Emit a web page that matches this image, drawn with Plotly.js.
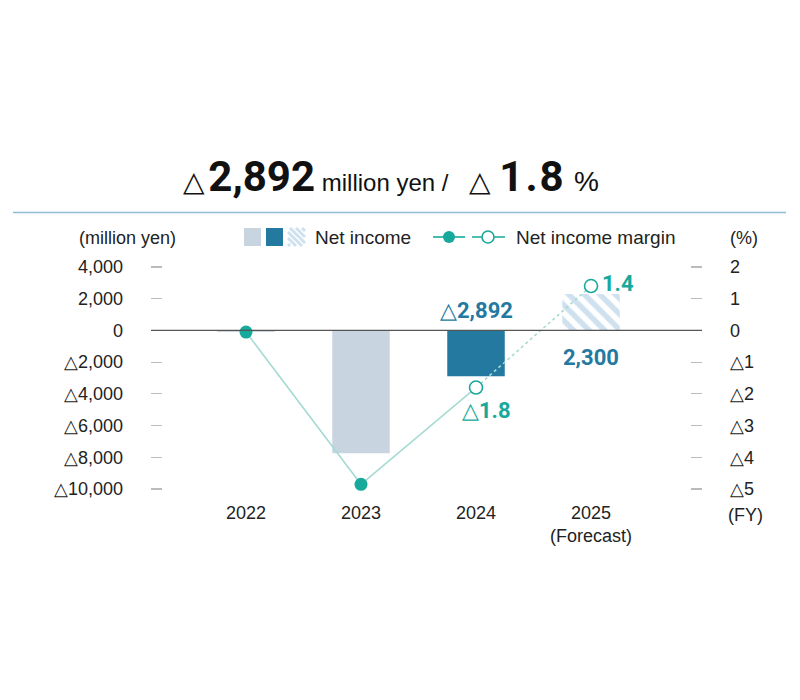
<!DOCTYPE html>
<html>
<head>
<meta charset="utf-8">
<script src="https://cdn.plot.ly/plotly-3.0.1.min.js"></script>
<style>
  body { margin: 0; background: #fff; }
  #chart { width: 800px; height: 700px; }
</style>
</head>
<body>
<div id="chart"></div>
<script>
// data
var years = ['2022', '2023', '2024', '2025'];
var yearLabels = ['2022', '2023', '2024', '2025<br>(Forecast)'];
var netIncome = [-100, -7750, -2892, 2300];
var margin = [-0.05, -4.85, -1.8, 1.4];
var leftTicks = [4000, 2000, 0, -2000, -4000, -6000, -8000, -10000];
var rightTicks = [2, 1, 0, -1, -2, -3, -4, -5];

var TEAL = '#17a99b';
var TEAL_LINE = '#a6dbd2';
var BLUE = '#23799f';
var GREY_BLUE = '#c8d5e1';
var HATCH = '#cfe1ef';
var NARROW = 'Roboto, sans-serif';

function fmt(v) {
  var s = Math.abs(v).toLocaleString('en-US');
  return v < 0 ? '△' + s : s;
}

// plot area in pixels: x 151..702, y 250..500
function px(x) { return (x - 151) / 551; }
function py(y) { return (500 - y) / 250; }

var idx = years.map(function (d, i) { return i; });

var barColors = [GREY_BLUE, GREY_BLUE, BLUE, HATCH];
var barPattern = {
  shape: ['', '', '', '\\'],
  fgcolor: HATCH,
  bgcolor: '#ffffff',
  size: 11,
  solidity: 0.5
};

var bars = {
  type: 'bar',
  x: idx,
  y: netIncome,
  width: 0.5,
  marker: { color: barColors, pattern: barPattern, line: { width: 0 } },
  hoverinfo: 'skip'
};

var solidLine = {
  type: 'scatter', mode: 'lines',
  x: idx.slice(0, 3), y: margin.slice(0, 3), yaxis: 'y2',
  line: { color: TEAL_LINE, width: 1.6 },
  hoverinfo: 'skip'
};
var dotLine = {
  type: 'scatter', mode: 'lines',
  x: idx.slice(2), y: margin.slice(2), yaxis: 'y2',
  line: { color: TEAL_LINE, width: 1.6, dash: 'dot' },
  hoverinfo: 'skip'
};
var points = {
  type: 'scatter', mode: 'markers',
  x: idx, y: margin, yaxis: 'y2',
  marker: {
    size: 13,
    color: [TEAL, TEAL, '#ffffff', '#ffffff'],
    line: { color: TEAL, width: [0, 0, 1.6, 1.6] }
  },
  hoverinfo: 'skip'
};

var annotations = [];
var shapes = [];

// headline, in two pieces so each half sits where the reference has it
var big = function (t, ls) {
  return '<b><span style="font-size:42px;font-family:Roboto;letter-spacing:' + (ls || 0) + 'px">' + t + '</span></b>';
};
var gap = function (n) { return '<span style="font-size:' + n + 'px">\u00A0</span>'; };
var triBig = '<span style="font-size:28px">△</span>';
annotations.push({
  xref: 'paper', yref: 'paper', x: px(316), y: py(176),
  xanchor: 'center', yanchor: 'middle', showarrow: false,
  text: triBig + gap(12) + big('2,892') + '<span style="font-size:24px">\u00A0million yen /</span>',
  font: { family: 'Liberation Sans', color: '#111', size: 24 }
});
annotations.push({
  xref: 'paper', yref: 'paper', x: px(534), y: py(176),
  xanchor: 'center', yanchor: 'middle', showarrow: false,
  text: triBig + gap(30) + big('1.8', 2) + gap(30) + '<span style="font-size:28px">%</span>',
  font: { family: 'Liberation Sans', color: '#111', size: 24 }
});

// rule under headline
shapes.push({
  type: 'line', xref: 'paper', yref: 'paper',
  x0: px(13), x1: px(786), y0: py(212.5), y1: py(212.5),
  line: { color: '#8dbcd4', width: 1.5 }
});

// zero line drawn above the inside tick marks
shapes.push({
  type: 'line', xref: 'paper', yref: 'y', x0: 0, x1: 1, y0: 0, y1: 0,
  layer: 'above', line: { color: '#555', width: 1.3 }
});

// axis unit labels
annotations.push({ xref: 'paper', yref: 'paper', x: px(127), y: py(238), xanchor: 'center', yanchor: 'middle', showarrow: false, text: '(million yen)', font: { size: 18 } });
annotations.push({ xref: 'paper', yref: 'paper', x: px(744), y: py(238), xanchor: 'center', yanchor: 'middle', showarrow: false, text: '(%)', font: { size: 18 } });
annotations.push({ xref: 'paper', yref: 'paper', x: px(745), y: py(515), xanchor: 'center', yanchor: 'middle', showarrow: false, text: '(FY)', font: { size: 18 } });

// custom legend
var ly0 = 228, ly1 = 246;
shapes.push({ type: 'rect', xref: 'paper', yref: 'paper', x0: px(244), x1: px(261), y0: py(ly1), y1: py(ly0), fillcolor: GREY_BLUE, line: { width: 0 } });
shapes.push({ type: 'rect', xref: 'paper', yref: 'paper', x0: px(266), x1: px(283), y0: py(ly1), y1: py(ly0), fillcolor: BLUE, line: { width: 0 } });
// hatched swatch: 45 degree stripes clipped to the square
(function () {
  var x0 = 288, x1 = 305, y0 = ly0, y1 = ly1;
  for (var c = x0 - y1 + 2; c < x1 - y0; c += 6) {
    var a = Math.max(x0, c + y0), b = Math.min(x1, c + y1);
    if (b - a < 1) continue;
    shapes.push({
      type: 'line', xref: 'paper', yref: 'paper',
      x0: px(a), y0: py(a - c), x1: px(b), y1: py(b - c),
      line: { color: HATCH, width: 3 }
    });
  }
})();
annotations.push({ xref: 'paper', yref: 'paper', x: px(313), y: py(237), xanchor: 'left', yanchor: 'middle', showarrow: false, text: 'Net income', font: { size: 19 } });

shapes.push({ type: 'line', xref: 'paper', yref: 'paper', x0: px(433), x1: px(465), y0: py(237), y1: py(237), line: { color: TEAL, width: 1.6 } });
shapes.push({ type: 'line', xref: 'paper', yref: 'paper', x0: px(472), x1: px(505), y0: py(237), y1: py(237), line: { color: TEAL, width: 1.6 } });
shapes.push({ type: 'circle', xref: 'paper', yref: 'paper', x0: px(443), x1: px(455), y0: py(243), y1: py(231), fillcolor: TEAL, line: { width: 0 } });
shapes.push({ type: 'circle', xref: 'paper', yref: 'paper', x0: px(482), x1: px(494), y0: py(243), y1: py(231), fillcolor: '#ffffff', line: { color: TEAL, width: 1.6 } });
annotations.push({ xref: 'paper', yref: 'paper', x: px(514), y: py(237), xanchor: 'left', yanchor: 'middle', showarrow: false, text: 'Net income margin', font: { size: 19 } });

// value labels
var valFont = function (col) { return { family: NARROW, size: 22, color: col }; };
var tri = '<span style="font-family:Liberation Sans;font-size:22px">△</span><b>';
annotations.push({
  x: 2, y: 0, xref: 'x', yref: 'y', xanchor: 'center', yanchor: 'bottom', yshift: 5, showarrow: false,
  text: fmt(netIncome[2]).replace('△', tri) + '</b>',
  font: valFont(BLUE)
});
annotations.push({
  x: 3, y: 0, xref: 'x', yref: 'y', xanchor: 'center', yanchor: 'top', yshift: -13, showarrow: false,
  text: '<b>' + fmt(netIncome[3]) + '</b>', font: valFont(BLUE)
});
annotations.push({
  x: 3, y: margin[3], xref: 'x', yref: 'y2', xanchor: 'left', yanchor: 'middle', xshift: 9, yshift: 3, showarrow: false,
  text: '<b>' + fmt(margin[3]) + '</b>', font: valFont(TEAL)
});
annotations.push({
  x: 2, y: margin[2], xref: 'x', yref: 'y2', xanchor: 'center', yanchor: 'top', xshift: 10, yshift: -8, showarrow: false,
  text: fmt(margin[2]).replace('△', tri) + '</b>',
  font: valFont(TEAL)
});

var layout = {
  width: 800, height: 700,
  margin: { l: 151, r: 98, t: 250, b: 200 },
  paper_bgcolor: '#ffffff', plot_bgcolor: '#ffffff',
  showlegend: false,
  font: { family: '"Liberation Sans", Arial, sans-serif', size: 18, color: '#222' },
  xaxis: {
    range: [-0.826, 3.965], tickvals: idx, ticktext: yearLabels,
    showgrid: false, zeroline: false, showline: false, ticks: '',
    tickfont: { size: 18 }, fixedrange: true
  },
  yaxis: {
    range: [-10690, 5070], tickvals: leftTicks, ticktext: leftTicks.map(fmt),
    showgrid: false, showline: false, zeroline: false,
    ticks: 'inside', ticklen: 11, tickwidth: 1.2, tickcolor: '#bbb',
    ticklabelstandoff: 27, tickfont: { size: 18 }
  },
  yaxis2: {
    overlaying: 'y', side: 'right',
    range: [-5.345, 2.536], tickvals: rightTicks, ticktext: rightTicks.map(fmt),
    showgrid: false, showline: false, zeroline: false,
    ticks: 'inside', ticklen: 11, tickwidth: 1.2, tickcolor: '#bbb',
    ticklabelstandoff: 27, tickfont: { size: 18 }
  },
  annotations: annotations,
  shapes: shapes
};

Plotly.newPlot('chart', [bars, solidLine, dotLine, points], layout, { displayModeBar: false, staticPlot: true });
</script>
</body>
</html>
